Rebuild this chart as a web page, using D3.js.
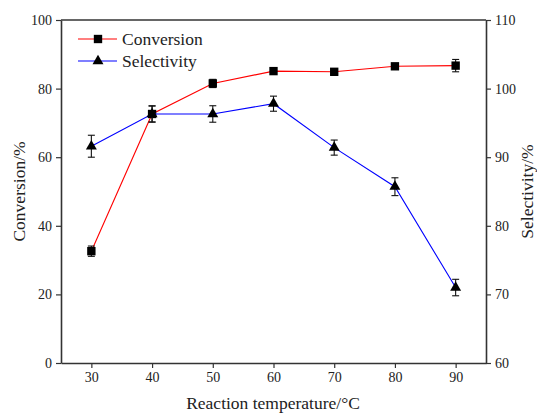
<!DOCTYPE html>
<html lang="en">
<head>
  <meta charset="UTF-8">
  <title>Conversion and Selectivity</title>
  <script src="https://d3js.org/d3.v7.min.js"></script>
  <style>
    body { margin: 0; background: #fff; }
    text { font-family: "Liberation Serif", "Times New Roman", serif; fill: #222; }
    .axis path, .axis line { stroke: #333; }
  </style>
</head>
<body>
  <div class="main"></div>
<script>
  // data
  var temperatures = [30, 40, 50, 60, 70, 80, 90];
  var conversion = [32.6, 72.6, 81.5, 85.1, 84.9, 86.5, 86.7];
  var conversionErr = [1.5, 2.3, 1.2, 0.3, 0.3, 0.8, 1.8];
  var selectivity = [91.6, 96.3, 96.3, 97.8, 91.4, 85.7, 71.0];
  var selectivityErr = [1.6, 1.2, 1.2, 1.1, 1.1, 1.3, 1.2];
  var xTicks = [30, 40, 50, 60, 70, 80, 90];
  var leftTicks = [0, 20, 40, 60, 80, 100];
  var rightTicks = [60, 70, 80, 90, 100, 110];

  var width = 537, height = 414;
  var plotLeft = 61, plotRight = 486, plotTop = 20, plotBottom = 363;
  var squareSize = 70, triangleSize = 52;

  var svg = d3.select(".main").append("svg")
          .attr("width", width)
          .attr("height", height);

  var xScale = d3.scaleLinear().domain([25, 95]).range([plotLeft, plotRight]);
  var yLeft = d3.scaleLinear().domain([0, 100]).range([plotBottom, plotTop]);
  var yRight = d3.scaleLinear().domain([60, 110]).range([plotBottom, plotTop]);

  function draw(axis, translate) {
    var g = svg.append("g")
            .attr("class", "axis")
            .attr("transform", translate)
            .call(axis);
    g.selectAll("path").style("stroke-width", "1.6");
    g.selectAll("line").style("stroke-width", "1.2");
    g.selectAll("text").style("font-size", "14px").style("font-family", "'Liberation Serif', serif").style("fill", "#222");
    return g;
  }

  draw(d3.axisBottom(xScale).tickValues(xTicks).tickSize(5).tickPadding(4).tickSizeOuter(0), `translate(0,${plotBottom})`);
  draw(d3.axisLeft(yLeft).tickValues(leftTicks).tickSize(5).tickPadding(4).tickSizeOuter(0), `translate(${plotLeft},0)`);
  draw(d3.axisRight(yRight).tickValues(rightTicks).tickSize(5).tickPadding(4).tickSizeOuter(0), `translate(${plotRight},0)`);

  // top frame line
  svg.append("line")
          .attr("x1", plotLeft).attr("x2", plotRight)
          .attr("y1", plotTop).attr("y2", plotTop)
          .style("stroke", "#333").style("stroke-width", "1.6");

  // axis titles
  svg.append("text")
          .attr("x", 273).attr("y", 409)
          .attr("text-anchor", "middle")
          .style("font-size", "17.5px")
          .text("Reaction temperature/\u00B0C");
  svg.append("text")
          .attr("transform", `translate(25,${(plotTop + plotBottom) / 2}) rotate(-90)`)
          .attr("text-anchor", "middle")
          .style("font-size", "17.5px")
          .text("Conversion/%");
  svg.append("text")
          .attr("transform", `translate(533,${(plotTop + plotBottom) / 2}) rotate(-90)`)
          .attr("text-anchor", "middle")
          .style("font-size", "17.5px")
          .text("Selectivity/%");

  var convData = temperatures.map((t, i) => ({x: t, y: conversion[i], e: conversionErr[i]}));
  var selData = temperatures.map((t, i) => ({x: t, y: selectivity[i], e: selectivityErr[i]}));

  function plotSeries(data, yScale, color, shape, size) {
    var line = d3.line()
            .x(d => xScale(d.x))
            .y(d => yScale(d.y));
    svg.append("path")
            .datum(data)
            .attr("d", line)
            .style("fill", "none")
            .style("stroke", color)
            .style("stroke-width", "1.1");

    var eg = svg.append("g");
    data.forEach(function (d) {
      var cx = xScale(d.x), y1 = yScale(d.y + d.e), y2 = yScale(d.y - d.e);
      eg.append("line").attr("x1", cx).attr("x2", cx).attr("y1", y1).attr("y2", y2);
      eg.append("line").attr("x1", cx - 3.5).attr("x2", cx + 3.5).attr("y1", y1).attr("y2", y1);
      eg.append("line").attr("x1", cx - 3.5).attr("x2", cx + 3.5).attr("y1", y2).attr("y2", y2);
    });
    eg.selectAll("line").style("stroke", "#111").style("stroke-width", "1.1");

    svg.append("g").selectAll("path")
            .data(data)
            .join("path")
            .attr("d", d3.symbol().type(shape).size(size))
            .attr("transform", d => `translate(${xScale(d.x)},${yScale(d.y)})`)
            .style("fill", "#000");
  }

  plotSeries(convData, yLeft, "#ff0000", d3.symbolSquare, squareSize);
  plotSeries(selData, yRight, "#0000ff", d3.symbolTriangle, triangleSize);

  // legend
  var legendItems = [
    {name: "Conversion", color: "#ff0000", shape: d3.symbolSquare, size: squareSize, y: 39},
    {name: "Selectivity", color: "#0000ff", shape: d3.symbolTriangle, size: triangleSize, y: 61}
  ];
  legendItems.forEach(function (item) {
    svg.append("line")
            .attr("x1", 78).attr("x2", 117)
            .attr("y1", item.y).attr("y2", item.y)
            .style("stroke", item.color).style("stroke-width", "1.1");
    svg.append("path")
            .attr("d", d3.symbol().type(item.shape).size(item.size))
            .attr("transform", `translate(98,${item.y})`)
            .style("fill", "#000");
    svg.append("text")
            .attr("x", 122).attr("y", item.y + 6)
            .style("font-size", "17.5px")
            .text(item.name);
  });
</script>
</body>
</html>
